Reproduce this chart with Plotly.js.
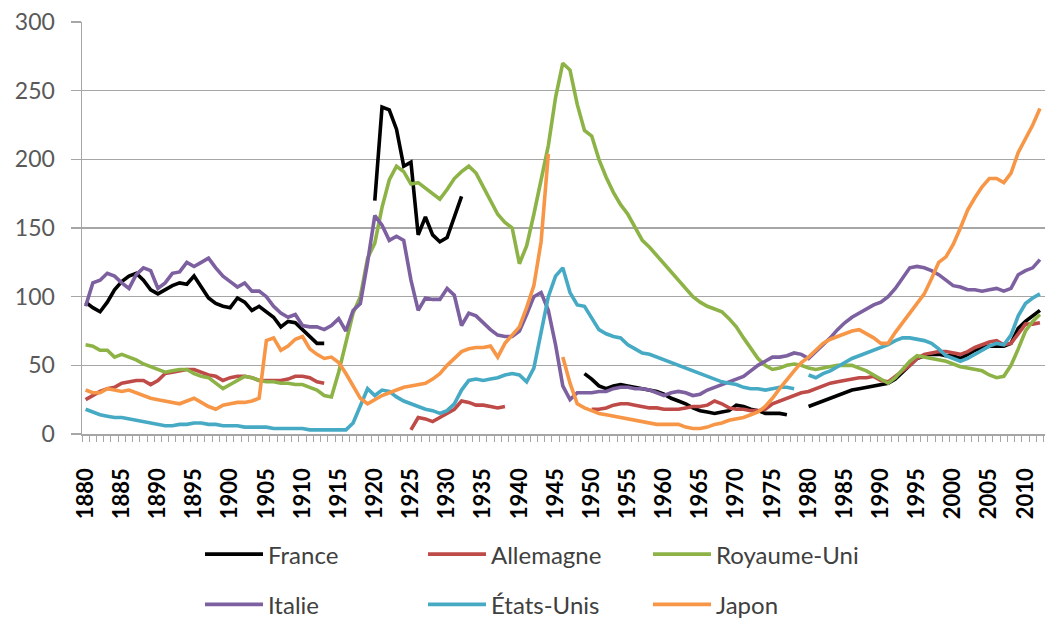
<!DOCTYPE html>
<html>
<head>
<meta charset="utf-8">
<script src="https://cdn.plot.ly/plotly-3.0.1.min.js"></script>
<style>html,body{margin:0;padding:0;background:#fff;}#chart{width:1047px;height:618px;}</style>
</head>
<body>
<div id="chart"></div>
<script>
// Years 1880..2012 (category axis)
const YEAR_START = 1880, YEAR_END = 2012;
const years = [];
for (let y = YEAR_START; y <= YEAR_END; y++) years.push(y);

const N = null;
// Values per decade, 1880s ... 2010s
const france = [
  96,92,89,96,105,111,115,117,112,105,
  102,105,108,110,109,115,107,99,95,93,
  92,99,96,90,93,89,85,78,82,81,
  76,71,66,66,N,N,N,N,N,N,
  170,238,236,222,195,198,145,158,145,140,
  143,158,173,N,N,N,N,N,N,N,
  N,N,N,N,N,N,N,N,N,44,
  40,35,33,35,36,35,34,33,32,31,
  29,26,24,22,19,17,16,15,16,17,
  21,20,18,17,15,15,15,14,N,N,
  20,22,24,26,28,30,32,33,34,35,
  36,37,40,45,50,55,57,58,58,57,
  57,55,58,61,63,64,64,64,66,77,
  82,86,90
];
const allemagne = [
  25,28,31,33,34,37,38,39,39,36,
  39,44,45,46,47,47,45,43,42,39,
  41,42,42,41,39,39,39,39,40,42,
  42,41,38,37,N,N,N,N,N,N,
  N,N,N,N,N,3,12,11,9,12,
  15,18,24,23,21,21,20,19,20,N,
  N,N,N,N,N,N,N,N,N,N,
  18,18,19,21,22,22,21,20,19,19,
  18,18,18,19,20,20,21,24,22,19,
  18,18,17,17,18,22,24,26,28,30,
  31,33,35,37,38,39,40,41,41,42,
  39,38,42,46,50,55,58,59,60,60,
  59,58,60,63,65,67,68,65,66,73,
  80,80,81
];
const royaumeUni = [
  65,64,61,61,56,58,56,54,51,49,
  47,45,46,47,47,44,42,41,37,33,
  36,39,42,41,39,38,38,37,37,36,
  36,34,32,28,27,45,66,88,100,128,
  139,165,185,195,191,182,183,179,175,171,
  178,186,191,195,190,180,171,160,154,150,
  124,137,160,185,210,245,270,265,240,221,
  217,200,187,176,167,160,150,141,136,130,
  124,118,112,106,100,96,93,91,89,84,
  78,70,62,55,50,47,48,50,51,50,
  48,47,48,49,50,50,50,48,46,43,
  40,37,41,47,53,57,56,55,54,53,
  51,49,48,47,46,43,41,42,50,62,
  75,82,87
];
const italie = [
  93,110,112,117,115,110,106,116,121,119,
  106,110,117,118,125,122,125,128,121,115,
  111,107,110,104,104,100,93,88,85,87,
  79,78,78,76,79,84,75,90,95,125,
  159,152,141,144,141,112,90,99,98,98,
  106,101,79,88,86,81,76,72,71,71,
  75,87,100,103,90,65,35,25,30,30,
  30,31,31,33,34,34,33,33,32,30,
  28,30,31,30,28,29,32,34,36,38,
  40,42,46,50,53,56,56,57,59,58,
  55,60,65,70,76,81,85,88,91,94,
  96,100,106,114,121,122,121,119,116,112,
  108,107,105,105,104,105,106,104,106,116,
  119,121,127
];
const etatsUnis = [
  18,16,14,13,12,12,11,10,9,8,
  7,6,6,7,7,8,8,7,7,6,
  6,6,5,5,5,5,4,4,4,4,
  4,3,3,3,3,3,3,8,20,33,
  28,32,31,27,24,22,20,18,17,15,
  17,22,32,39,40,39,40,41,43,44,
  43,38,48,75,100,115,121,103,94,93,
  85,76,73,71,70,65,62,59,58,56,
  54,52,50,48,46,44,42,40,38,37,
  36,34,33,33,32,33,34,34,33,N,
  43,41,44,46,49,52,55,57,59,61,
  63,65,68,70,70,69,68,66,62,57,
  55,53,55,58,61,64,66,65,72,86,
  95,99,102
];
const japon = [
  32,30,30,33,32,31,32,30,28,26,
  25,24,23,22,24,26,23,20,18,21,
  22,23,23,24,26,68,70,61,64,69,
  71,62,58,55,56,52,44,35,26,22,
  25,28,30,32,34,35,36,37,40,44,
  50,55,60,62,63,63,64,56,66,72,
  78,92,108,140,204,N,56,37,22,19,
  17,15,14,13,12,11,10,9,8,7,
  7,7,7,5,4,4,5,7,8,10,
  11,12,14,16,20,26,33,40,46,52,
  56,61,66,69,71,73,75,76,73,70,
  66,66,74,81,88,95,102,113,125,129,
  138,150,163,172,180,186,186,183,190,205,
  215,225,237
];

const seriesNames = ['France','Allemagne','Royaume-Uni','Italie','États-Unis','Japon'];
const seriesValues = [france, allemagne, royaumeUni, italie, etatsUnis, japon];
const seriesColors = ['#000000','#be4b48','#8db347','#7d60a0','#46aac5','#f79646'];
const seriesLegend = ['legend','legend2','legend3','legend','legend2','legend3'];

const FONT = 'Lato, "Open Sans", sans-serif';
const traces = seriesNames.map((name, i) => ({
  type: 'scatter', mode: 'lines', name: name,
  x: years, y: seriesValues[i],
  connectgaps: false,
  line: {color: seriesColors[i], width: 3.6},
  legend: seriesLegend[i],
  legendgroup: 'g' + i,
  hoverinfo: 'skip'
}));

function legendAt(x) {
  return {
    orientation: 'v', x: x, xanchor: 'left', y: -0.238, yanchor: 'top',
    xref: 'paper', yref: 'paper',
    font: {family: FONT, size: 24, color: '#404040'},
    bgcolor: 'rgba(0,0,0,0)', borderwidth: 0,
    itemwidth: 58, tracegroupgap: 16, traceorder: 'grouped'
  };
}

const layout = {
  width: 1047, height: 618,
  margin: {l: 82, r: 2, t: 22, b: 184, autoexpand: false},
  paper_bgcolor: '#ffffff', plot_bgcolor: '#ffffff',
  showlegend: true,
  font: {family: FONT},
  xaxis: {
    type: 'linear', range: [1879.5, 2012.7],
    tickmode: 'linear', tick0: 1880, dtick: 5,
    tickangle: -90, ticks: '', ticklabelstandoff: 24,
    tickfont: {family: FONT, size: 22, color: '#000000', weight: 'bold'},
    showgrid: false, zeroline: false,
    showline: true, linecolor: '#a6a6a6', linewidth: 1.5,
    minor: {tick0: 1879.5, dtick: 1, ticks: 'outside', ticklen: 6, tickcolor: '#a6a6a6', tickwidth: 1, showgrid: false}
  },
  yaxis: {
    range: [0, 300], tickmode: 'linear', tick0: 0, dtick: 50,
    ticks: 'outside', ticklen: 10, tickcolor: '#a6a6a6', tickwidth: 1.5,
    ticklabelstandoff: 11,
    tickfont: {family: FONT, size: 23, color: '#595959'},
    showgrid: true, gridcolor: '#a6a6a6', gridwidth: 1.5,
    zeroline: false, showline: true, linecolor: '#a6a6a6', linewidth: 1.5
  },
  legend: legendAt((200 - 82) / 963),
  legend2: legendAt((423 - 82) / 963),
  legend3: legendAt((648 - 82) / 963)
};

Plotly.newPlot('chart', traces, layout, {displayModeBar: false, staticPlot: true});
</script>
</body>
</html>
